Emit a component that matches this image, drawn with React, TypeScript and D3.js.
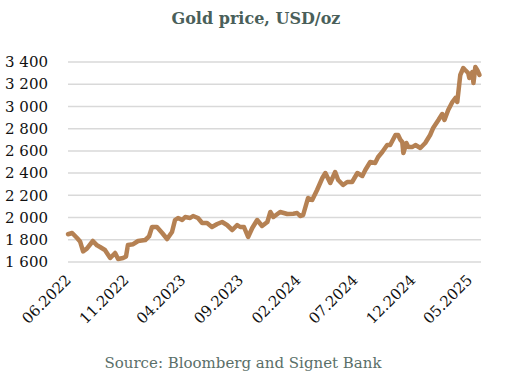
import React from "react";
import * as d3 from "d3";

const dates: string[] = [
  "2022-06-01","2022-06-12","2022-06-25","2022-07-03","2022-07-11","2022-07-21","2022-08-06","2022-08-17","2022-08-25","2022-09-07",
  "2022-09-21","2022-10-04","2022-10-12","2022-10-25","2022-11-02","2022-11-07","2022-11-21","2022-12-04","2022-12-23","2023-01-02",
  "2023-01-10","2023-01-23","2023-02-06","2023-02-19","2023-03-04","2023-03-12","2023-03-20","2023-03-31","2023-04-08","2023-04-21",
  "2023-04-29","2023-05-12","2023-05-23","2023-06-05","2023-06-18","2023-07-02","2023-07-15","2023-07-28","2023-08-11","2023-08-24",
  "2023-09-01","2023-09-11","2023-09-22","2023-10-03","2023-10-16","2023-10-29","2023-11-12","2023-11-20","2023-11-28","2023-12-16",
  "2024-01-04","2024-01-20","2024-01-30","2024-02-07","2024-02-15","2024-02-28","2024-03-10","2024-03-23","2024-04-06","2024-04-14",
  "2024-04-27","2024-05-10","2024-05-18","2024-05-31","2024-06-11","2024-06-24","2024-07-08","2024-07-21","2024-07-29","2024-08-11",
  "2024-08-24","2024-09-01","2024-09-12","2024-09-25","2024-10-03","2024-10-17","2024-10-24","2024-10-30","2024-11-04","2024-11-07",
  "2024-11-15","2024-11-20","2024-12-01","2024-12-09","2024-12-22","2025-01-04","2025-01-17","2025-01-25","2025-02-08","2025-02-18",
  "2025-02-24","2025-03-06","2025-03-17","2025-03-25","2025-03-30","2025-04-07","2025-04-15","2025-04-20","2025-04-28","2025-05-01",
  "2025-05-09","2025-05-12","2025-05-17","2025-05-22","2025-05-28"
];

const prices: number[] = [
  1850,1861,1816,1785,1695,1720,1789,1750,1735,1708,
  1636,1681,1627,1636,1650,1753,1760,1789,1798,1830,
  1915,1915,1861,1807,1870,1978,1996,1978,2005,1996,
  2014,1996,1951,1951,1915,1942,1960,1933,1888,1933,
  1915,1915,1825,1906,1978,1924,1960,2050,2005,2050,
  2032,2035,2041,2014,2023,2176,2158,2248,2356,2401,
  2311,2410,2338,2293,2320,2320,2401,2374,2428,2500,
  2491,2545,2590,2653,2653,2743,2743,2700,2680,2581,
  2671,2635,2635,2653,2626,2671,2743,2806,2878,2932,
  2878,2968,3040,3076,3040,3283,3346,3328,3301,3256,
  3310,3211,3355,3328,3283
];

const yTicks: number[] = [1600, 1800, 2000, 2200, 2400, 2600, 2800, 3000, 3200, 3400];
const xTickLabels: string[] = ["06.2022","11.2022","04.2023","09.2023","02.2024","07.2024","12.2024","05.2025"];
const title = "Gold price, USD/oz";
const source = "Source: Bloomberg and Signet Bank";

const parse = d3.timeParse("%Y-%m-%d");
const parseTick = d3.timeParse("%m.%Y");

export default function App() {
  const W = 511, H = 383;
  const x = d3.scaleTime()
    .domain([parse("2022-06-01")!, parse("2025-06-01")!])
    .range([68, 481]);
  const y = d3.scaleLinear().domain([1600, 3400]).range([262, 62]);
  const fmt = d3.formatLocale({ decimal: ",", thousands: " ", grouping: [3], currency: ["", ""] }).format(",d");
  const data = dates.map((d, i) => ({ date: parse(d)!, v: prices[i] }));
  const line = d3.line<{ date: Date; v: number }>()
    .x(d => x(d.date))
    .y(d => y(d.v))
    .curve(d3.curveLinear);
  const serif = "'DejaVu Serif', serif";
  return (
    <svg width={W} height={H} style={{ position: "absolute", left: 0, top: 0, background: "#fff" }}>
      <text x={256} y={24} textAnchor="middle" fontFamily={serif} fontWeight="bold" fontSize={16} fill="#4a5f5a">{title}</text>
      {yTicks.map(t => (
        <g key={t}>
          <line x1={68} x2={481} y1={y(t)} y2={y(t)} stroke="#d9d9d9" strokeWidth={1.5} />
          <text x={48} y={y(t)} dy="0.35em" textAnchor="end" fontFamily={serif} fontSize={15} fill="#111">{fmt(t)}</text>
        </g>
      ))}
      <path d={line(data) || ""} fill="none" stroke="#b58153" strokeWidth={4.5} strokeLinejoin="round" strokeLinecap="round" />
      {xTickLabels.map(l => {
        const tx = x(parseTick(l)!);
        return (
          <text key={l} transform={`translate(${tx + 4},${281}) rotate(-45)`} textAnchor="end" fontFamily={serif} fontSize={15} fill="#111">{l}</text>
        );
      })}
      <text x={243} y={368} textAnchor="middle" fontFamily={serif} fontSize={15} fill="#5a6f69">{source}</text>
    </svg>
  );
}
